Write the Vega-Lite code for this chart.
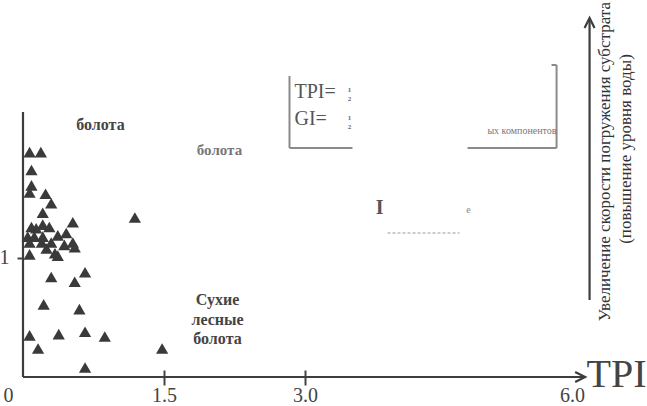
{
  "$schema": "https://vega.github.io/schema/vega-lite/v6.json",
  "width": 624,
  "height": 377,
  "autosize": {"type": "none"},
  "padding": {"left": 23, "top": 0, "right": 0, "bottom": 29},
  "background": "white",
  "config": {"view": {"stroke": null}, "font": "Liberation Serif"},
  "datasets": {
    "points": [
      {"x": 0.07, "y": 1.89}, {"x": 0.19, "y": 1.89}, {"x": 0.09, "y": 1.74}, {"x": 0.09, "y": 1.61},
      {"x": 0.07, "y": 1.55}, {"x": 0.24, "y": 1.54}, {"x": 0.30, "y": 1.46}, {"x": 0.21, "y": 1.38},
      {"x": 1.19, "y": 1.34}, {"x": 0.53, "y": 1.30}, {"x": 0.09, "y": 1.26}, {"x": 0.14, "y": 1.25},
      {"x": 0.21, "y": 1.28}, {"x": 0.28, "y": 1.26}, {"x": 0.05, "y": 1.18}, {"x": 0.12, "y": 1.18},
      {"x": 0.21, "y": 1.18}, {"x": 0.37, "y": 1.19}, {"x": 0.46, "y": 1.21}, {"x": 0.07, "y": 1.13},
      {"x": 0.20, "y": 1.13}, {"x": 0.30, "y": 1.13}, {"x": 0.44, "y": 1.11}, {"x": 0.53, "y": 1.13},
      {"x": 0.55, "y": 1.09}, {"x": 0.25, "y": 1.08}, {"x": 0.34, "y": 1.04}, {"x": 0.07, "y": 1.03},
      {"x": 0.37, "y": 1.02}, {"x": 0.30, "y": 0.84}, {"x": 0.66, "y": 0.88}, {"x": 0.55, "y": 0.80},
      {"x": 0.22, "y": 0.61}, {"x": 0.60, "y": 0.57}, {"x": 0.07, "y": 0.35}, {"x": 0.38, "y": 0.36},
      {"x": 0.66, "y": 0.38}, {"x": 0.87, "y": 0.34}, {"x": 0.16, "y": 0.24}, {"x": 1.48, "y": 0.24},
      {"x": 0.66, "y": 0.08}
    ],
    "axislines": [
      {"x": 0, "y": 0, "x2": 0, "y2": 2.227},
      {"x": 0, "y": 0, "x2": 5.96, "y2": 0},
      {"x": 6.027, "y": 0.647, "x2": 6.027, "y2": 3.0}
    ],
    "boxlines": [
      {"x": 2.835, "y": 2.529, "x2": 2.835, "y2": 1.924},
      {"x": 2.835, "y": 1.924, "x2": 3.505, "y2": 1.924},
      {"x": 4.729, "y": 1.924, "x2": 5.676, "y2": 1.924},
      {"x": 5.676, "y": 2.622, "x2": 5.676, "y2": 1.924},
      {"x": 5.622, "y": 2.622, "x2": 5.676, "y2": 2.622}
    ],
    "dashlines": [
      {"x": 3.878, "y": 1.21, "x2": 4.644, "y2": 1.21}
    ],
    "arrowright": [{"x": 5.98, "y": 0}],
    "arrowup": [{"x": 6.027, "y": 3.017}],
    "boldlabels": [
      {"x": 0.824, "y": 2.118, "label": "болота"},
      {"x": 2.069, "y": 0.647, "label": "Сухие"},
      {"x": 2.069, "y": 0.479, "label": "лесные"},
      {"x": 2.069, "y": 0.319, "label": "болота"}
    ],
    "fadedlabels": [
      {"x": 2.09, "y": 1.905, "label": "болота"}
    ],
    "formulas": [
      {"x": 2.888, "y": 2.345, "label": "TPI="},
      {"x": 2.888, "y": 2.118, "label": "GI="}
    ],
    "fracs": [
      {"x": 3.473, "y": 2.412, "label": "1"},
      {"x": 3.473, "y": 2.336, "label": "2"},
      {"x": 3.473, "y": 2.176, "label": "1"},
      {"x": 3.473, "y": 2.101, "label": "2"}
    ],
    "smalltext": [
      {"x": 5.676, "y": 2.042, "label": "ых компонентов"}
    ],
    "letterI": [{"x": 3.793, "y": 1.42, "label": "I"}],
    "lettere": [{"x": 4.739, "y": 1.403, "label": "е"}],
    "bigtitle": [{"x": 5.995, "y": -0.084, "label": "TPI"}],
    "vertical": [
      {"x": 6.186, "y": 1.81, "label": "Увеличение скорости погружения субстрата"},
      {"x": 6.41, "y": 1.916, "label": "(повышение уровня воды)"}
    ]
  },
  "encoding": {
    "x": {
      "field": "x", "type": "quantitative",
      "scale": {"domain": [0, 6.638], "nice": false, "zero": false},
      "axis": {
        "title": null, "values": [0, 1.5, 3, 6], "domain": false, "grid": false,
        "offset": -7, "tickSize": 15, "tickWidth": 2, "tickColor": "#444",
        "tickOpacity": {"condition": {"test": "datum.value == 1.5 || datum.value == 3", "value": 1}, "value": 0},
        "labelExpr": "datum.value == 0 ? '0' : format(datum.value, '.1f')",
        "labelFont": "Liberation Serif", "labelFontSize": 20, "labelColor": "#444",
        "labelPadding": 0, "labelFlush": false, "labelOverlap": false, "labelBound": false,
        "labelOffset": {"condition": {"test": "datum.value == 0 || datum.value == 6", "value": -15}, "value": 0}
      }
    },
    "y": {
      "field": "y", "type": "quantitative",
      "scale": {"domain": [0, 3.168], "nice": false, "zero": false},
      "axis": {
        "title": null, "values": [1], "domain": false, "grid": false,
        "tickSize": 6, "tickWidth": 2, "tickColor": "#444",
        "labelFont": "Liberation Serif", "labelFontSize": 20, "labelColor": "#444",
        "labelPadding": 8, "labelOverlap": false, "labelBound": false
      }
    }
  },
  "layer": [
    {
      "data": {"name": "axislines"},
      "mark": {"type": "rule", "color": "#3d3d3d", "strokeWidth": 2.2},
      "encoding": {"x2": {"field": "x2"}, "y2": {"field": "y2"}}
    },
    {
      "data": {"name": "boxlines"},
      "mark": {"type": "rule", "color": "#8a8a8a", "strokeWidth": 2},
      "encoding": {"x2": {"field": "x2"}, "y2": {"field": "y2"}}
    },
    {
      "data": {"name": "dashlines"},
      "mark": {"type": "rule", "color": "#9a9a9a", "strokeWidth": 1, "strokeDash": [3, 2]},
      "encoding": {"x2": {"field": "x2"}, "y2": {"field": "y2"}}
    },
    {
      "data": {"name": "arrowright"},
      "mark": {"type": "point", "shape": "M-1,-0.5L0,0L-1,0.5", "filled": false, "size": 400, "color": "#3d3d3d", "strokeWidth": 2.2, "opacity": 1}
    },
    {
      "data": {"name": "arrowup"},
      "mark": {"type": "point", "shape": "M-0.5,1L0,0L0.5,1", "filled": false, "size": 400, "color": "#3d3d3d", "strokeWidth": 2.2, "opacity": 1}
    },
    {
      "data": {"name": "points"},
      "mark": {"type": "point", "shape": "triangle-up", "filled": true, "size": 150, "color": "#3a3a3a", "opacity": 1}
    },
    {
      "data": {"name": "boldlabels"},
      "mark": {"type": "text", "font": "Liberation Serif", "fontWeight": "bold", "fontSize": 16, "color": "#444", "align": "center", "baseline": "middle"},
      "encoding": {"text": {"field": "label"}}
    },
    {
      "data": {"name": "fadedlabels"},
      "mark": {"type": "text", "font": "Liberation Serif", "fontWeight": "bold", "fontSize": 15, "color": "#777", "align": "center", "baseline": "middle"},
      "encoding": {"text": {"field": "label"}}
    },
    {
      "data": {"name": "formulas"},
      "mark": {"type": "text", "font": "Liberation Serif", "fontSize": 20, "color": "#555", "align": "left", "baseline": "alphabetic"},
      "encoding": {"text": {"field": "label"}}
    },
    {
      "data": {"name": "fracs"},
      "mark": {"type": "text", "font": "Liberation Serif", "fontWeight": "bold", "fontSize": 7, "color": "#666", "align": "center", "baseline": "middle"},
      "encoding": {"text": {"field": "label"}}
    },
    {
      "data": {"name": "smalltext"},
      "mark": {"type": "text", "font": "Liberation Serif", "fontSize": 10, "color": "#777", "align": "right", "baseline": "alphabetic"},
      "encoding": {"text": {"field": "label"}}
    },
    {
      "data": {"name": "letterI"},
      "mark": {"type": "text", "font": "Liberation Serif", "fontWeight": "bold", "fontSize": 20, "color": "#555", "align": "center", "baseline": "middle"},
      "encoding": {"text": {"field": "label"}}
    },
    {
      "data": {"name": "lettere"},
      "mark": {"type": "text", "font": "Liberation Serif", "fontSize": 10, "color": "#888", "align": "center", "baseline": "middle"},
      "encoding": {"text": {"field": "label"}}
    },
    {
      "data": {"name": "bigtitle"},
      "mark": {"type": "text", "font": "Liberation Serif", "fontSize": 40, "color": "#444", "align": "left", "baseline": "alphabetic"},
      "encoding": {"text": {"field": "label"}}
    },
    {
      "data": {"name": "vertical"},
      "mark": {"type": "text", "font": "Liberation Serif", "fontSize": 17, "color": "#333", "align": "center", "baseline": "middle", "angle": 270},
      "encoding": {"text": {"field": "label"}}
    }
  ]
}
